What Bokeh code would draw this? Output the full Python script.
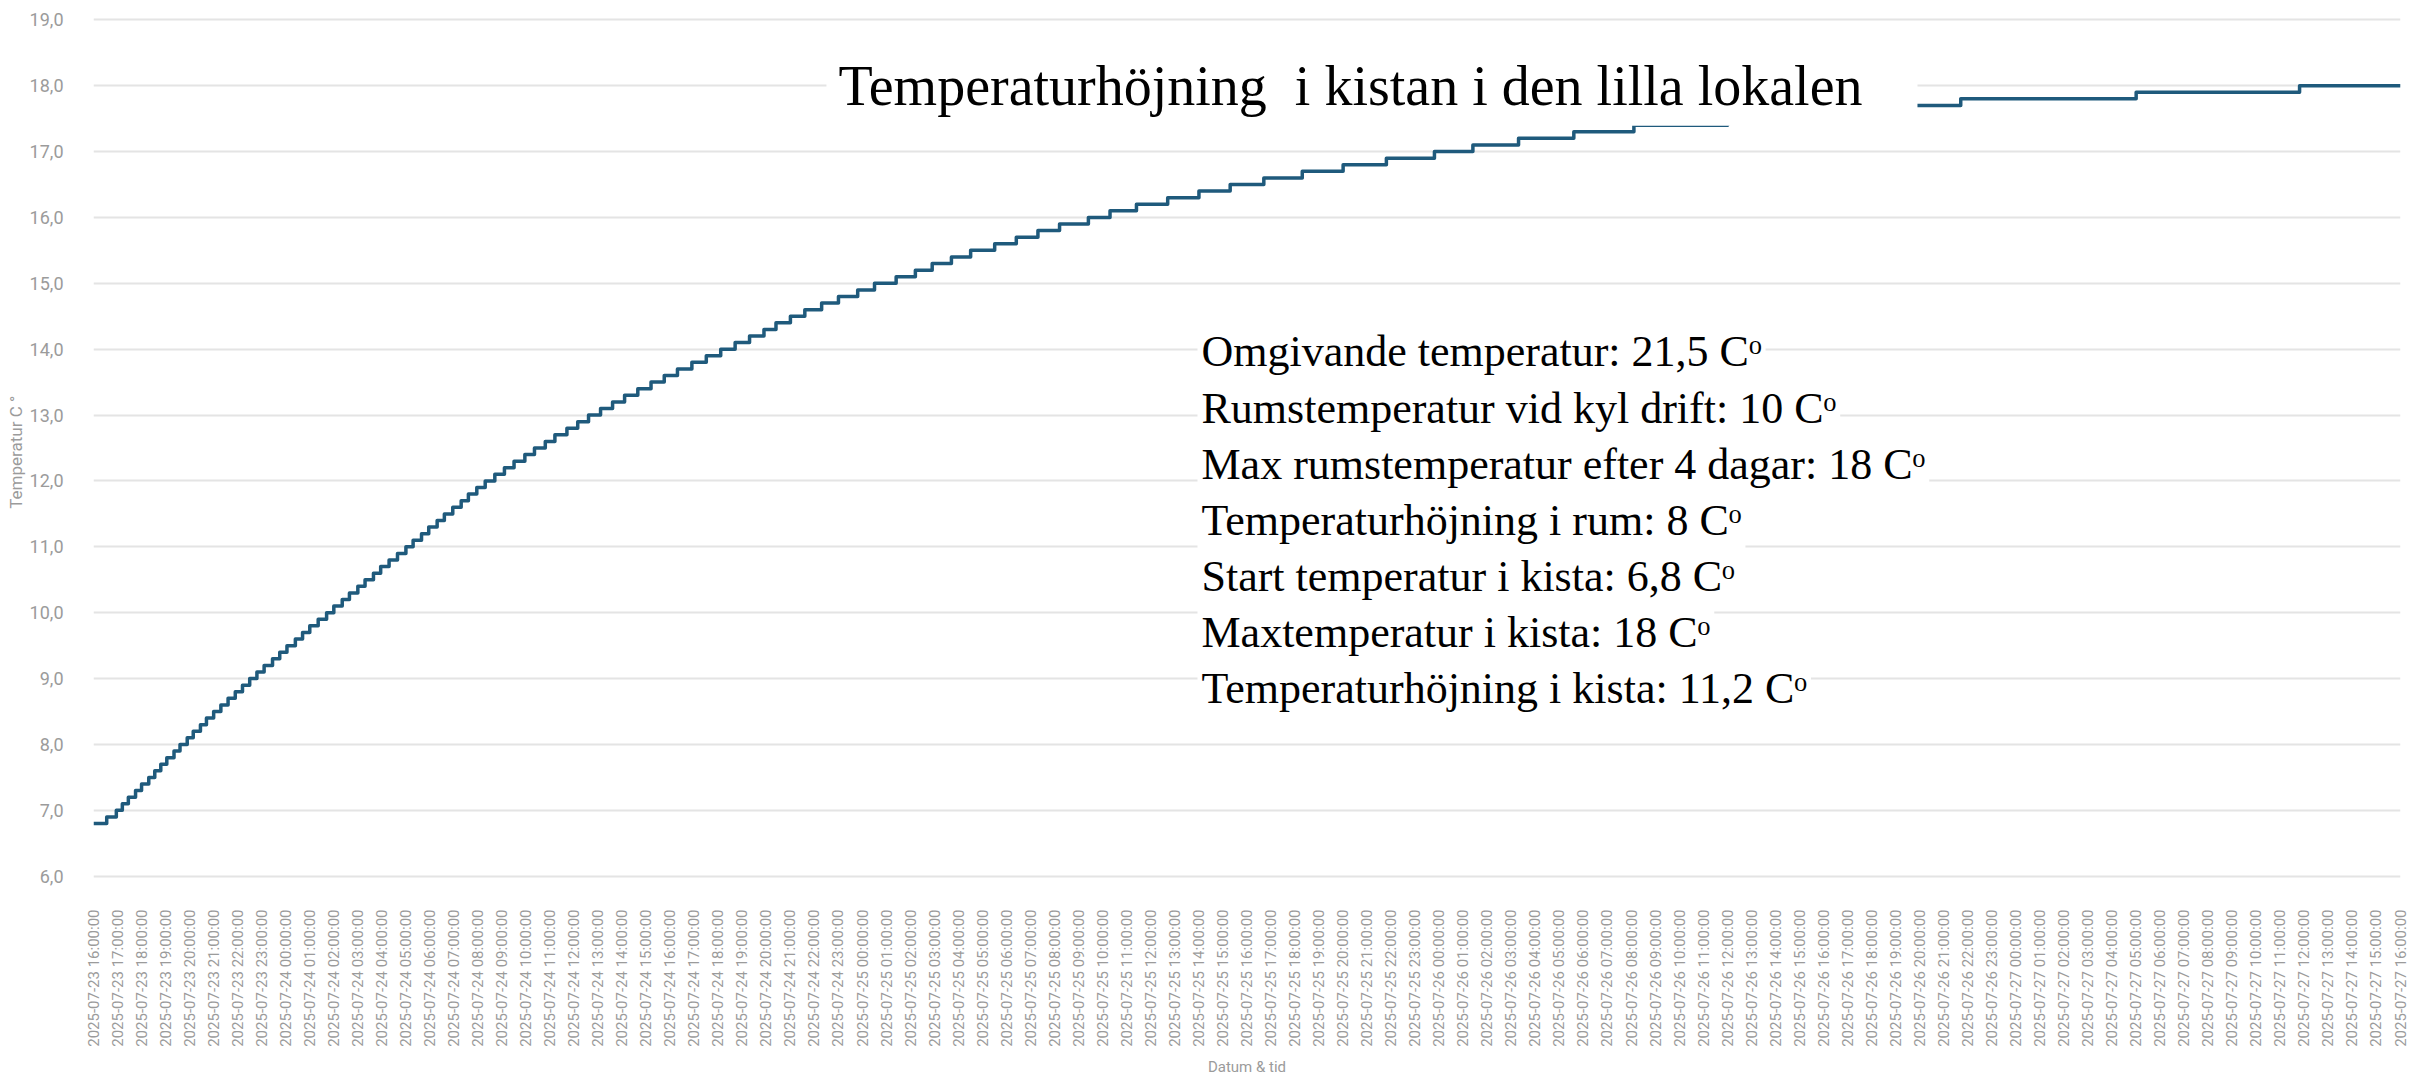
import math
import pandas as pd
from bokeh.plotting import figure
from bokeh.models import FixedTicker, DatetimeTickFormatter, Range1d, Label, BoxAnnotation, ColumnDataSource
from bokeh.embed import file_html
from bokeh.resources import INLINE

# ---------------- data ----------------
start = pd.Timestamp("2025-07-23 16:00:00")

# hours after start at which each 0.1 step begins
step_hours = [0, 0.55, 0.95, 1.2, 1.45, 1.75, 2.0, 2.3, 2.55, 2.8, 3.05, 3.35,
              3.6, 3.9, 4.15, 4.45, 4.7, 5.0, 5.3, 5.6, 5.9, 6.2,
              6.5, 6.8, 7.1, 7.45, 7.75, 8.05, 8.4, 8.7, 9.0, 9.35,
              9.7, 10.0, 10.35, 10.65, 11.0, 11.3, 11.65, 11.95, 12.3, 12.65,
              13.0, 13.3, 13.65, 13.95, 14.3, 14.6, 14.95, 15.3, 15.6, 15.95,
              16.3, 16.7, 17.1, 17.5, 17.95, 18.35, 18.8, 19.2, 19.7, 20.15,
              20.6, 21.1, 21.6, 22.1, 22.65, 23.2, 23.75, 24.3, 24.9, 25.5,
              26.1, 26.7, 27.3, 27.9, 28.4, 29.0, 29.6, 30.3, 31.0, 31.8,
              32.5, 33.4, 34.2, 34.9, 35.7, 36.5, 37.5, 38.4, 39.3, 40.2,
              41.4, 42.3, 43.4, 44.7, 46.0, 47.3, 48.7, 50.3, 52.0, 53.8,
              55.8, 57.4, 59.3, 61.6, 64.1, 68.0, 71.8, 75.0, 77.7, 85.0,
              91.8, 96.0]
step_temps = [6.8, 6.9, 7.0, 7.1, 7.2, 7.3, 7.4, 7.5, 7.6, 7.7, 7.8, 7.9,
              8.0, 8.1, 8.2, 8.3, 8.4, 8.5, 8.6, 8.7, 8.8, 8.9,
              9.0, 9.1, 9.2, 9.3, 9.4, 9.5, 9.6, 9.7, 9.8, 9.9,
              10.0, 10.1, 10.2, 10.3, 10.4, 10.5, 10.6, 10.7, 10.8, 10.9,
              11.0, 11.1, 11.2, 11.3, 11.4, 11.5, 11.6, 11.7, 11.8, 11.9,
              12.0, 12.1, 12.2, 12.3, 12.4, 12.5, 12.6, 12.7, 12.8, 12.9,
              13.0, 13.1, 13.2, 13.3, 13.4, 13.5, 13.6, 13.7, 13.8, 13.9,
              14.0, 14.1, 14.2, 14.3, 14.4, 14.5, 14.6, 14.7, 14.8, 14.9,
              15.0, 15.1, 15.2, 15.3, 15.4, 15.5, 15.6, 15.7, 15.8, 15.9,
              16.0, 16.1, 16.2, 16.3, 16.4, 16.5, 16.6, 16.7, 16.8, 16.9,
              17.0, 17.1, 17.2, 17.3, 17.4, 17.5, 17.6, 17.7, 17.8, 17.9,
              18.0, 18.0]

tick_hours = list(range(0, 97))
y_ticks = [6, 7, 8, 9, 10, 11, 12, 13, 14, 15, 16, 17, 18, 19]
y_tick_labels = ["6,0", "7,0", "8,0", "9,0", "10,0", "11,0", "12,0", "13,0",
                 "14,0", "15,0", "16,0", "17,0", "18,0", "19,0"]

title_text = "Temperaturhöjning\u00a0 i kistan i den lilla lokalen"
notes = [
    "Omgivande temperatur: 21,5 Cᵒ",
    "Rumstemperatur vid kyl drift: 10 Cᵒ",
    "Max rumstemperatur efter 4 dagar: 18 Cᵒ",
    "Temperaturhöjning i rum: 8 Cᵒ",
    "Start temperatur i kista: 6,8 Cᵒ",
    "Maxtemperatur i kista: 18 Cᵒ",
    "Temperaturhöjning i kista: 11,2 Cᵒ",
]
y_axis_title = "Temperatur  C  °"
x_axis_title = "Datum & tid"

# ---------------- figure ----------------
def t(h):
    return start + pd.Timedelta(hours=h)

def ms(h):
    return t(h).value / 1e6

src = ColumnDataSource(dict(x=[t(h) for h in step_hours], y=step_temps))

p = figure(width=2426, height=1080, x_axis_type="datetime",
           output_backend="svg", toolbar_location=None,
           min_border_left=93, min_border_right=26, min_border_top=16,
           min_border_bottom=201)
p.x_range = Range1d(ms(0), ms(96))
p.y_range = Range1d(5.95, 19.05)
p.outline_line_color = None
p.background_fill_color = "white"
p.border_fill_color = "white"

p.xgrid.visible = False
p.ygrid.grid_line_color = "#e4e4e4"
p.ygrid.grid_line_width = 2

grey = "#9b9b9b"
tick_font = "Roboto"

xa = p.xaxis[0]
xa.ticker = FixedTicker(ticks=[ms(h) for h in tick_hours])
fmt = "%Y-%m-%d %H:%M:%S"
xa.formatter = DatetimeTickFormatter(milliseconds=fmt, seconds=fmt, minsec=fmt,
                                     minutes=fmt, hourmin=fmt, hours=fmt,
                                     days=fmt, months=fmt, years=fmt)
xa.major_label_orientation = math.pi / 2
xa.major_label_text_font = tick_font
xa.major_label_text_font_size = "15px"
xa.major_label_text_color = grey
xa.major_label_standoff = 24
xa.axis_line_color = None
xa.major_tick_line_color = None
xa.minor_tick_line_color = None
xa.axis_label = x_axis_title
xa.axis_label_text_font = tick_font
xa.axis_label_text_font_style = "normal"
xa.axis_label_text_font_size = "15px"
xa.axis_label_text_color = grey
xa.axis_label_standoff = 8

ya = p.yaxis[0]
ya.ticker = FixedTicker(ticks=y_ticks)
ya.major_label_overrides = dict(zip(y_ticks, y_tick_labels))
ya.major_label_text_font = tick_font
ya.major_label_text_font_size = "18px"
ya.major_label_text_color = grey
ya.major_label_standoff = 24
ya.axis_line_color = None
ya.major_tick_line_color = None
ya.minor_tick_line_color = None
ya.axis_label = y_axis_title
ya.axis_label_text_font = tick_font
ya.axis_label_text_font_style = "normal"
ya.axis_label_text_font_size = "17px"
ya.axis_label_text_color = grey
ya.axis_label_standoff = 1

p.step("x", "y", source=src, mode="after", line_width=3.5,
       line_color="#1f5a7c", line_join="round")

# white box behind the title (hides part of the curve)
p.add_layout(BoxAnnotation(left=ms(30.5), right=ms(75.9), bottom=17.39, top=18.75,
                           fill_color="white", fill_alpha=1.0, line_color=None))
p.add_layout(Label(x=ms(31.0), y=18.0, text=title_text,
                   text_font="Liberation Serif", text_font_size="56px",
                   text_color="black", text_baseline="alphabetic"))

for i, line in enumerate(notes):
    p.add_layout(Label(x=ms(45.94), y=13.96 - i * 0.853, text=line,
                       text_font="Liberation Serif", text_font_size="44px",
                       text_color="black", text_baseline="alphabetic",
                       background_fill_color="white", background_fill_alpha=1.0,
                       padding=4))

open("out.html", "w").write(file_html(p, INLINE))
